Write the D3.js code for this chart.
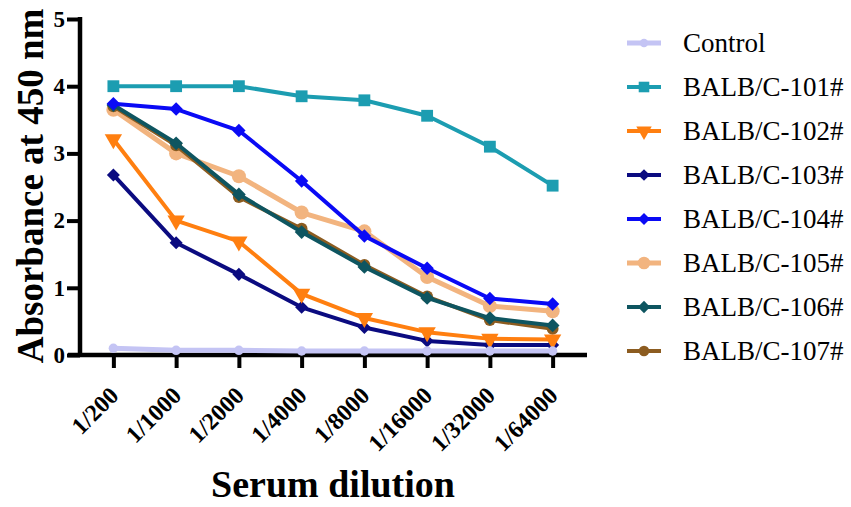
<!DOCTYPE html>
<html>
<head>
<meta charset="utf-8">
<script src="https://cdn.jsdelivr.net/npm/d3@7"></script>
<style>
  body { margin: 0; background: #fff; }
  svg { display: block; }
</style>
</head>
<body>
<div id="chart"></div>
<script>
const dilutions = ["1/200", "1/1000", "1/2000", "1/4000", "1/8000", "1/16000", "1/32000", "1/64000"]
const seriesNames = ["Control", "BALB/C-101#", "BALB/C-102#", "BALB/C-103#", "BALB/C-104#", "BALB/C-105#", "BALB/C-106#", "BALB/C-107#"]

const control = [0.10, 0.07, 0.07, 0.06, 0.06, 0.06, 0.06, 0.06]
const balb101 = [4.00, 4.00, 4.00, 3.85, 3.79, 3.56, 3.10, 2.52]
const balb102 = [3.21, 2.00, 1.69, 0.91, 0.55, 0.34, 0.24, 0.23]
const balb103 = [2.68, 1.67, 1.20, 0.71, 0.41, 0.21, 0.15, 0.15]
const balb104 = [3.74, 3.66, 3.34, 2.59, 1.77, 1.29, 0.84, 0.76]
const balb105 = [3.65, 3.00, 2.66, 2.12, 1.84, 1.16, 0.73, 0.65]
const balb106 = [3.72, 3.15, 2.39, 1.83, 1.31, 0.85, 0.55, 0.44]
const balb107 = [3.70, 3.12, 2.35, 1.88, 1.34, 0.87, 0.52, 0.39]
const yTicks = [0, 1, 2, 3, 4, 5]

const width = 851
const height = 507
const serif = '"Liberation Serif", "Times New Roman", Times, serif'

// look of each series: colour, marker, marker size
const styles = [
  {color: '#c4c4f4', symbol: d3.symbolCircle, size: 70, rot: 0, lw: 5},
  {color: '#1c9db1', symbol: d3.symbolSquare, size: 140, rot: 0, lw: 4},
  {color: '#ff7f10', symbol: d3.symbolTriangle, size: 130, rot: 180, lw: 4},
  {color: '#0b0b80', symbol: d3.symbolSquare, size: 85, rot: 45, lw: 4},
  {color: '#0a0af5', symbol: d3.symbolSquare, size: 90, rot: 45, lw: 4},
  {color: '#f2b47f', symbol: d3.symbolCircle, size: 155, rot: 0, lw: 5},
  {color: '#0e5560', symbol: d3.symbolSquare, size: 95, rot: 45, lw: 4},
  {color: '#8c5c20', symbol: d3.symbolCircle, size: 110, rot: 0, lw: 4}
]

// which series sits on top of which (first drawn = bottom)
const drawOrder = [5, 7, 6, 3, 2, 1, 4, 0]

const values = [control, balb101, balb102, balb103, balb104, balb105, balb106, balb107]
const series = seriesNames.map((name, i) => ({name: name, values: values[i], style: styles[i]}))

const svg = d3.select('#chart').append('svg')
  .attr('width', width)
  .attr('height', height)

const x = d3.scalePoint()
  .domain(dilutions)
  .range([82, 584])
  .padding(0.5)

const y = d3.scaleLinear()
  .domain([0, 5])
  .range([355, 19])

const line = d3.line()
  .x((d, i) => x(dilutions[i]))
  .y(d => y(d))

// axes
let xAxis = svg.append('g')
  .attr('transform', 'translate(0,' + y(0) + ')')
  .call(d3.axisBottom(x).tickSize(13).tickSizeOuter(0))

xAxis.attr('font-family', null)
xAxis.select('.domain').remove()
xAxis.append('line')
  .attr('x1', 68).attr('x2', 587)
  .attr('stroke', '#000').attr('stroke-width', 4.5)
xAxis.selectAll('.tick line').attr('stroke', '#000').attr('stroke-width', 4)
xAxis.selectAll('.tick text')
  .style('font-family', serif)
  .style('font-weight', 'bold')
  .style('font-size', '24px')
  .attr('fill', '#000')
  .attr('text-anchor', 'end')
  .attr('x', 0).attr('y', 0).attr('dy', 0)
  .attr('transform', 'translate(6,42) rotate(-45)')

let yAxis = svg.append('g')
  .attr('transform', 'translate(80,0)')
  .call(d3.axisLeft(y).tickValues(yTicks).tickSize(13).tickSizeOuter(0).tickFormat(d3.format('d')))

yAxis.attr('font-family', null)
yAxis.select('.domain').remove()
yAxis.append('line')
  .attr('y1', 17).attr('y2', y(0) + 2)
  .attr('stroke', '#000').attr('stroke-width', 4.5)
yAxis.selectAll('.tick line').attr('stroke', '#000').attr('stroke-width', 4)
yAxis.selectAll('.tick text')
  .style('font-family', serif)
  .style('font-weight', 'bold')
  .style('font-size', '23px')
  .attr('fill', '#000')
  .attr('x', -15)

let plot = svg.append('g')

drawOrder.forEach(k => {
  let s = series[k]
  let g = plot.append('g')

  g.append('path')
    .datum(s.values)
    .attr('d', line)
    .attr('fill', 'none')
    .attr('stroke', s.style.color)
    .attr('stroke-width', s.style.lw)
    .attr('stroke-linejoin', 'round')

  g.selectAll('path.pt')
    .data(s.values)
    .enter()
    .append('path')
    .attr('class', 'pt')
    .attr('d', d3.symbol().type(s.style.symbol).size(s.style.size))
    .attr('transform', (d, i) => 'translate(' + x(dilutions[i]) + ',' + y(d) + ') rotate(' + s.style.rot + ')')
    .attr('fill', s.style.color)
})

// axis titles
svg.append('text')
  .attr('transform', 'translate(43,' + 186 + ') rotate(-90)')
  .attr('text-anchor', 'middle')
  .style('font-family', serif)
  .style('font-weight', 'bold')
  .style('font-size', '37px')
  .text('Absorbance at 450 nm')

svg.append('text')
  .attr('x', 333)
  .attr('y', 497)
  .attr('text-anchor', 'middle')
  .style('font-family', serif)
  .style('font-weight', 'bold')
  .style('font-size', '38px')
  .text('Serum dilution')

// legend
let legend = svg.append('g')

let rows = legend.selectAll('g')
  .data(series)
  .enter()
  .append('g')
  .attr('transform', (d, i) => 'translate(627,' + (43 + i * 44) + ')')

rows.append('line')
  .attr('x1', 0).attr('x2', 34)
  .attr('stroke', d => d.style.color)
  .attr('stroke-width', d => d.style.lw)

rows.append('path')
  .attr('d', d => d3.symbol().type(d.style.symbol).size(d.style.size * 0.8)())
  .attr('transform', d => 'translate(17,0) rotate(' + d.style.rot + ')')
  .attr('fill', d => d.style.color)

rows.append('text')
  .attr('x', 56)
  .attr('dy', '0.32em')
  .style('font-family', serif)
  .style('font-size', '27px')
  .attr('fill', '#000')
  .text(d => d.name)
</script>
</body>
</html>
